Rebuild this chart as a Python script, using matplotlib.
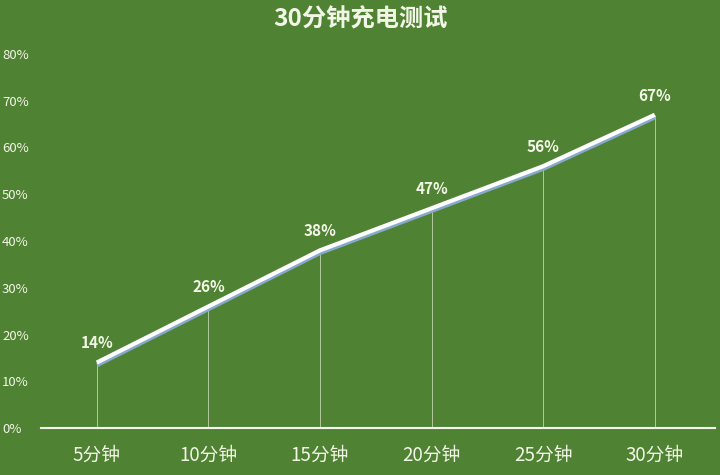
import matplotlib
matplotlib.use("Agg")
import matplotlib.pyplot as plt
import matplotlib.patheffects as pe

plt.rcParams['font.family'] = ['Noto Sans CJK SC', 'DejaVu Sans']

# --- data ---
categories = ['5分钟', '10分钟', '15分钟', '20分钟', '25分钟', '30分钟']
charge = [14, 26, 38, 47, 56, 67]
y_ticks = [0, 10, 20, 30, 40, 50, 60, 70, 80]
title = '30分钟充电测试'

bg = '#4f8233'
txt = '#f2f6e6'

fig = plt.figure(figsize=(7.2, 4.75), dpi=100, facecolor=bg)
ax = fig.add_axes([41 / 720, 47 / 475, 674 / 720, 374 / 475], facecolor=bg)

x = list(range(len(categories)))

# thin drop lines from each point to the axis
ax.vlines(x, 0, charge, colors='#c9dcb8', linewidth=0.7, alpha=0.8, zorder=2)

# main line with a bluish shadow underneath
ax.plot(x, charge, color='white', linewidth=3, solid_capstyle='butt', zorder=4,
        path_effects=[pe.SimpleLineShadow(offset=(0.3, -1.8), shadow_color='#86a9cc', alpha=1.0, linewidth=3),
                      pe.Normal()])

for xi, v in zip(x, charge):
    ax.annotate(f'{v}%', (xi, v), xytext=(0, 8), textcoords='offset points',
                ha='center', va='bottom', color=txt, fontsize=11, fontweight='bold')

ax.set_xlim(-0.5, 5.54)
ax.set_ylim(0, 80)
ax.set_xticks(x)
ax.set_xticklabels(categories, fontsize=13.5, color=txt)
ax.set_yticks(y_ticks)
ax.set_yticklabels([f'{t}%' for t in y_ticks], fontsize=9.5, color=txt, ha='left')
ax.tick_params(axis='y', length=0, pad=28)
ax.tick_params(axis='x', length=0, pad=12)

for s in ['top', 'right', 'left']:
    ax.spines[s].set_visible(False)
ax.spines['bottom'].set_color('#f4f7ee')
ax.spines['bottom'].set_linewidth(1.5)

fig.text(0.5, 1 - 19 / 475, title, ha='center', va='center', color=txt,
         fontsize=17.5, fontweight='bold')

fig.savefig('out.png', dpi=100, facecolor=bg)
